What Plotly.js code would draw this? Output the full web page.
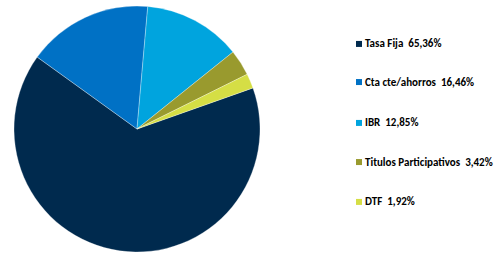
<!DOCTYPE html>
<html>
<head>
<meta charset="utf-8">
<script src="https://cdn.plot.ly/plotly-3.0.1.min.js"></script>
<style>html,body{margin:0;padding:0;background:#fff;}#chart{width:503px;height:254px;}</style>
</head>
<body>
<div id="chart"></div>
<script>
const categories = ["Tasa Fija", "Cta cte/ahorros", "IBR", "Titulos Participativos", "DTF"];
const values = [65.36, 16.46, 12.85, 3.42, 1.92];
const valueLabels = ["65,36%", "16,46%", "12,85%", "3,42%", "1,92%"];
const colors = ["#002A4E", "#0071C5", "#00A4DE", "#999A2E", "#D5DE45"];

const legendFont = {family: "Carlito, Lato, 'Liberation Sans', sans-serif", size: 11, color: "#000"};
const legendX = 0.722;
const legendY = [0.827, 0.677, 0.516, 0.362, 0.205];

const annotations = categories.map((c, i) => ({
  xref: "paper", yref: "paper", x: legendX, y: legendY[i],
  xanchor: "left", yanchor: "middle", showarrow: false,
  text: "<b>" + c + "\u00a0\u00a0" + valueLabels[i] + "</b>", font: legendFont
}));
const shapes = categories.map((c, i) => ({
  type: "rect", xref: "paper", yref: "paper",
  x0: 356 / 503, x1: 362 / 503,
  y0: legendY[i] - 3 / 254, y1: legendY[i] + 3 / 254,
  fillcolor: colors[i], line: {width: 0}
}));

Plotly.newPlot("chart", [{
  type: "pie",
  labels: categories,
  values: values,
  sort: false,
  direction: "clockwise",
  rotation: 70.5,
  marker: {colors: colors, line: {color: "rgba(255,255,255,0.6)", width: 0.5}},
  textinfo: "none",
  hoverinfo: "label+percent",
  domain: {x: [14 / 503, 260 / 503], y: [2 / 254, 248 / 254]},
  showlegend: false
}], {
  width: 503, height: 254,
  margin: {l: 0, r: 0, t: 0, b: 0},
  paper_bgcolor: "#fff",
  showlegend: false,
  annotations: annotations,
  shapes: shapes
}, {displayModeBar: false, staticPlot: true});
</script>
</body>
</html>
